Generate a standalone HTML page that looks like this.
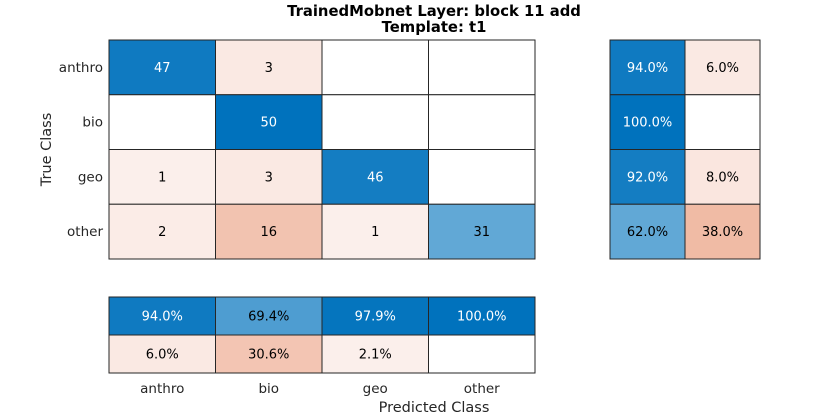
<!DOCTYPE html>
<html><head><meta charset="utf-8">
<style>
html,body{margin:0;padding:0;background:#fff;width:840px;height:420px;overflow:hidden}
svg{display:block;font-family:"DejaVu Sans","Liberation Sans",sans-serif}
</style></head>
<body>
<svg id="c" width="840" height="420" viewBox="0 0 840 420">
<text x="434" y="16" text-anchor="middle" font-size="14.8" font-weight="bold" fill="#000">TrainedMobnet Layer: block 11 add</text>
<text x="434" y="32" text-anchor="middle" font-size="14.8" font-weight="bold" fill="#000">Template: t1</text>
<text x="434" y="412" text-anchor="middle" font-size="14.5" fill="#262626">Predicted Class</text>
<text transform="translate(51,149.5) rotate(-90)" text-anchor="middle" font-size="14.5" fill="#262626">True Class</text>
</svg>
<script>
const classes = ["anthro","bio","geo","other"];
const counts = [
  [47,3,0,0],
  [0,50,0,0],
  [1,3,46,0],
  [2,16,1,31]
];
const rowCorrect = [94.0,100.0,92.0,62.0];
const rowWrong = [6.0,0.0,8.0,38.0];
const colCorrect = [94.0,69.4,97.9,100.0];
const colWrong = [6.0,30.6,2.1,0.0];

const svg = document.getElementById('c');
const NS = 'http://www.w3.org/2000/svg';
const gx0 = 109, gx1 = 535, gy0 = 40, gy1 = 259;
const cw = (gx1-gx0)/classes.length, ch = (gy1-gy0)/classes.length;
function xPos(i){return gx0 + i*cw;}
function yPos(i){return gy0 + i*ch;}
function blue(f){return `rgb(${Math.round(255-255*f)},${Math.round(255-141*f)},${Math.round(255-66*f)})`;}
function orange(f){return `rgb(${Math.round(252-31*f)},${Math.round(242-146*f)},${Math.round(239-196*f)})`;}
const maxCount = 50;

function cell(x,y,w,h,fill,label,f,name){
  const r = document.createElementNS(NS,'rect');
  r.setAttribute('x',x); r.setAttribute('y',y); r.setAttribute('width',w); r.setAttribute('height',h);
  r.setAttribute('fill',fill); r.setAttribute('stroke','#262626'); r.setAttribute('stroke-width','1');
  
  
  svg.appendChild(r);
  if(label!==''){
    const t = document.createElementNS(NS,'text');
    t.setAttribute('x',x+w/2); t.setAttribute('y',y+h/2+4.5);
    t.setAttribute('text-anchor','middle'); t.setAttribute('font-size','13');
    t.setAttribute('fill', f>0.75 ? '#fff' : '#000');
    t.textContent = label;
    
    
    svg.appendChild(t);
  }
}
for(let i=0;i<classes.length;i++){
  for(let j=0;j<classes.length;j++){
    const v = counts[i][j], f = v/maxCount;
    const fill = v===0 ? '#fff' : (i===j ? blue(f) : orange(f));
    cell(xPos(j),yPos(i),cw,ch,fill,v===0?'':String(v),i===j?f:0,'cell-'+classes[i]+'-'+classes[j]);
  }
  const t = document.createElementNS(NS,'text');
  t.setAttribute('x',103); t.setAttribute('y',yPos(i)+ch/2+4.5);
  t.setAttribute('text-anchor','end'); t.setAttribute('font-size','13.5'); t.setAttribute('fill','#262626');
  t.textContent = classes[i];
  
  
  svg.appendChild(t);
}
const rx0 = 610, rw = 75;
for(let i=0;i<classes.length;i++){
  const a = rowCorrect[i]/100, b = rowWrong[i]/100;
  cell(rx0,yPos(i),rw,ch,a===0?'#fff':blue(a),a===0?'':rowCorrect[i].toFixed(1)+'%',a,'row-summary-correct-'+classes[i]);
  cell(rx0+rw,yPos(i),rw,ch,b===0?'#fff':orange(b),b===0?'':rowWrong[i].toFixed(1)+'%',0,'row-summary-wrong-'+classes[i]);
}
const by0 = 297, bh = 38;
for(let j=0;j<classes.length;j++){
  const a = colCorrect[j]/100, b = colWrong[j]/100;
  cell(xPos(j),by0,cw,bh,a===0?'#fff':blue(a),a===0?'':colCorrect[j].toFixed(1)+'%',a,'col-summary-correct-'+classes[j]);
  cell(xPos(j),by0+bh,cw,bh,b===0?'#fff':orange(b),b===0?'':colWrong[j].toFixed(1)+'%',0,'col-summary-wrong-'+classes[j]);
  const t = document.createElementNS(NS,'text');
  t.setAttribute('x',xPos(j)+cw/2); t.setAttribute('y',393);
  t.setAttribute('text-anchor','middle'); t.setAttribute('font-size','13.5'); t.setAttribute('fill','#262626');
  t.textContent = classes[j];
  
  
  svg.appendChild(t);
}
</script>
</body></html>
